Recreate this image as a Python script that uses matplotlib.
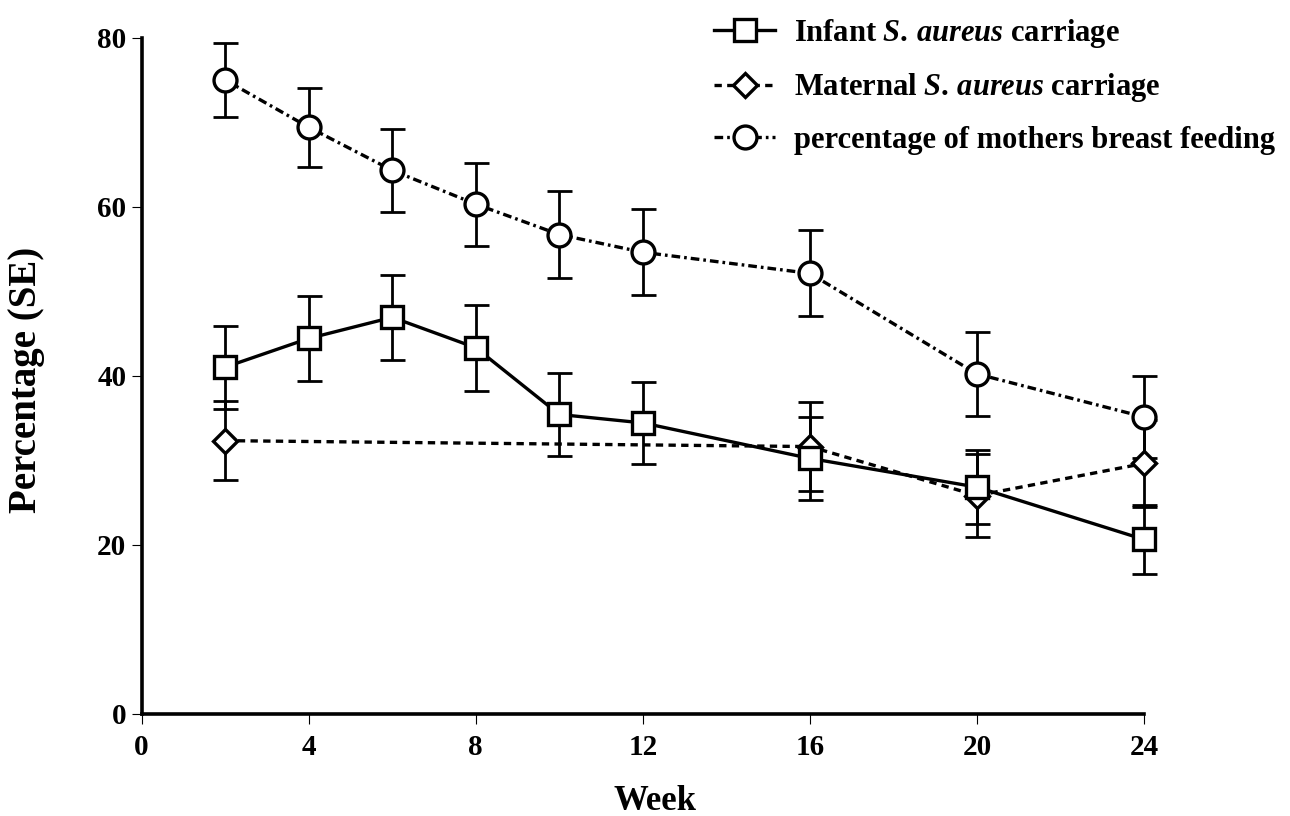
import matplotlib
matplotlib.use("Agg")
import matplotlib.pyplot as plt

plt.rcParams['font.family'] = ['Liberation Serif', 'DejaVu Serif']
plt.rcParams['font.weight'] = 'bold'
plt.rcParams['mathtext.fontset'] = 'custom'
plt.rcParams['mathtext.rm'] = 'Liberation Serif:bold'
plt.rcParams['mathtext.it'] = 'Liberation Serif:italic:bold'

weeks = [2, 4, 6, 8, 10, 12, 16, 20, 24]
infant = [41.0, 44.4, 46.9, 43.3, 35.4, 34.4, 30.2, 26.8, 20.6]
infant_se = [4.9, 5.0, 5.0, 5.1, 4.9, 4.9, 4.9, 4.4, 4.1]

maternal_weeks = [2, 16, 20, 24]
maternal = [32.3, 31.6, 25.8, 29.6]
maternal_se = [4.7, 5.3, 4.9, 5.1]

breast = [75.0, 69.4, 64.3, 60.3, 56.7, 54.6, 52.1, 40.2, 35.1]
breast_se = [4.4, 4.7, 4.9, 4.9, 5.1, 5.1, 5.1, 5.0, 4.9]

xticks = [0, 4, 8, 12, 16, 20, 24]
yticks = [0, 20, 40, 60, 80]

fig = plt.figure(figsize=(12.9, 8.16), dpi=100)
ax = fig.add_axes([0.1098, 0.1256, 0.777, 0.8282])

err_kw = dict(fmt='none', ecolor='black', elinewidth=2.0, capsize=9, capthick=2.0, clip_on=False, zorder=2)
ax.errorbar(weeks, breast, yerr=breast_se, **err_kw)
ax.errorbar(weeks, infant, yerr=infant_se, **err_kw)
ax.errorbar(maternal_weeks, maternal, yerr=maternal_se, **err_kw)

ax.plot(weeks, infant, color='black', lw=2.4, ls='-', marker='s', ms=16, mfc='white',
        mec='black', mew=2.4, clip_on=False, zorder=4, label='Infant $\\it{S.\\,aureus}$ carriage')
ax.plot(maternal_weeks, maternal, color='black', lw=2.4, ls=(0, (2.2, 1.6)), marker='D', ms=12.5,
        mfc='white', mec='black', mew=2.4, clip_on=False, zorder=3,
        label='Maternal $\\it{S.\\,aureus}$ carriage')
ax.plot(weeks, breast, color='black', lw=2.4, ls=(0, (2.6, 1.2, 0.8, 1.2)), marker='o', ms=16.5,
        mfc='white', mec='black', mew=2.4, clip_on=False, zorder=4,
        label='percentage of mothers breast feeding')

ax.set_xlim(0, 24)
ax.set_ylim(0, 80)
ax.set_xticks(xticks)
ax.set_yticks(yticks)
for s in ['top', 'right']:
    ax.spines[s].set_visible(False)
for s in ['left', 'bottom']:
    ax.spines[s].set_linewidth(2.6)
ax.tick_params(axis='both', length=7, width=0.8, labelsize=21)
ax.tick_params(axis='x', pad=8)
ax.tick_params(axis='y', pad=4)

fig.text(27 / 1290, 1 - 380 / 816, 'Percentage (SE)', rotation=90, ha='center', va='center',
         fontsize=28, fontweight='bold')
fig.text(655 / 1290, 1 - 801 / 816, 'Week', ha='center', va='center', fontsize=25, fontweight='bold')

ax.legend(loc='upper right', bbox_to_anchor=(1290 / 1290, 0.998), bbox_transform=fig.transFigure,
          frameon=False, fontsize=22, handlelength=2.0, handletextpad=0.6, labelspacing=0.7,
          borderaxespad=0.1)

fig.savefig('out.png', dpi=100)
